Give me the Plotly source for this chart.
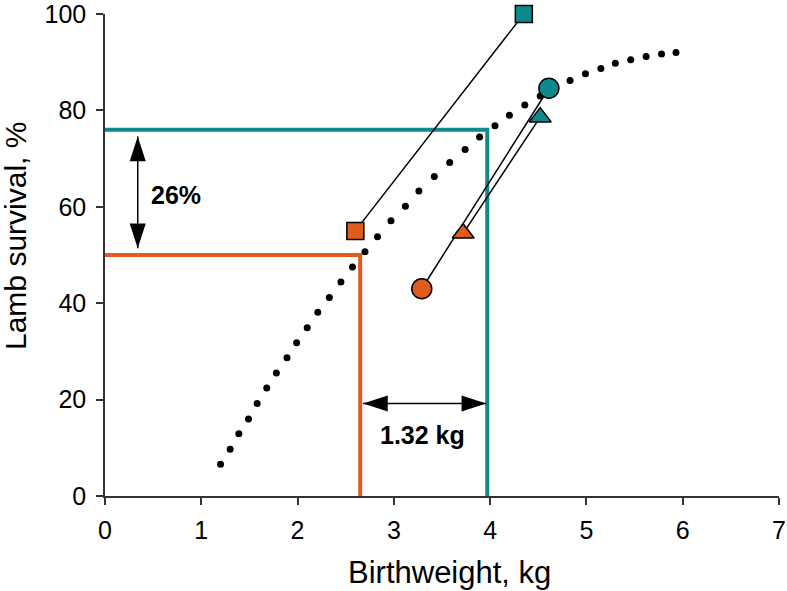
import plotly.graph_objects as go

# ---- data ----
curve_x = [1.20, 1.30, 1.39, 1.49, 1.58, 1.68, 1.78, 1.89, 1.99, 2.10, 2.21, 2.33, 2.45, 2.57,
           2.70, 2.83, 2.97, 3.12, 3.26, 3.42, 3.58, 3.74, 3.89, 4.05, 4.20, 4.36, 4.52, 4.67,
           4.83, 4.99, 5.15, 5.30, 5.46, 5.62, 5.78, 5.93]
curve_y = [6.6, 9.7, 12.9, 16.0, 19.2, 22.4, 25.5, 28.7, 31.8, 34.9, 38.1, 41.2, 44.4, 47.5,
           50.7, 53.8, 57.1, 60.1, 63.3, 66.3, 69.2, 71.9, 74.5, 76.8, 79.0, 81.1, 83.0, 84.7,
           86.2, 87.6, 88.7, 89.8, 90.5, 91.2, 91.7, 92.0]

square_x = [2.60, 4.35]
square_y = [55.0, 100.0]
triangle_x = [3.72, 4.52]
triangle_y = [54.5, 78.6]
circle_x = [3.29, 4.61]
circle_y = [43.0, 84.6]

low_weight, low_survival = 2.65, 50.0     # orange reference
high_weight, high_survival = 3.97, 76.0   # teal reference

vert_arrow_x = [0.34, 0.34]
vert_arrow_y = [51.4, 74.6]
horiz_arrow_x = [2.68, 3.96]
horiz_arrow_y = [19.2, 19.2]

label_pct = "26%"
label_kg = "1.32 kg"
x_ticks = [0, 1, 2, 3, 4, 5, 6, 7]
y_ticks = [0, 20, 40, 60, 80, 100]

ORANGE = "#E15B1D"
TEAL = "#0F898B"
FONT = "Liberation Sans, Arial, sans-serif"

L, R, T, B = 105, 8, 14, 95
PW = 787 - L - R
PH = 591 - T - B

fig = go.Figure()

# reference lines
fig.add_trace(go.Scatter(x=[0, high_weight, high_weight], y=[high_survival, high_survival, 0],
                         mode="lines", line=dict(color=TEAL, width=4), cliponaxis=False,
                         hoverinfo="skip"))
fig.add_trace(go.Scatter(x=[0, low_weight, low_weight], y=[low_survival, low_survival, 0],
                         mode="lines", line=dict(color=ORANGE, width=4), cliponaxis=False,
                         hoverinfo="skip"))

# dotted curve
fig.add_trace(go.Scatter(x=curve_x, y=curve_y, mode="markers",
                         marker=dict(color="black", size=7), cliponaxis=False))

# connectors
for xs, ys in [(square_x, square_y), (triangle_x, triangle_y), (circle_x, circle_y)]:
    fig.add_trace(go.Scatter(x=xs, y=ys, mode="lines", line=dict(color="black", width=1.5),
                             cliponaxis=False))

# markers
line_m = dict(color="black", width=1.5)
fig.add_trace(go.Scatter(x=square_x, y=square_y, mode="markers", cliponaxis=False,
                         marker=dict(symbol="square", size=17, color=[ORANGE, TEAL], line=line_m)))
fig.add_trace(go.Scatter(x=triangle_x, y=triangle_y, mode="markers", cliponaxis=False,
                         marker=dict(symbol="triangle-up", size=19, color=[ORANGE, TEAL], line=line_m)))
fig.add_trace(go.Scatter(x=circle_x, y=circle_y, mode="markers", cliponaxis=False,
                         marker=dict(symbol="circle", size=20, color=[ORANGE, TEAL], line=line_m)))

# double arrows
fig.add_trace(go.Scatter(x=vert_arrow_x, y=vert_arrow_y, mode="lines+markers",
                         line=dict(color="black", width=1.5), cliponaxis=False,
                         marker=dict(symbol="arrow", size=26, color="black", angle=[180, 0])))
fig.add_trace(go.Scatter(x=horiz_arrow_x, y=horiz_arrow_y, mode="lines+markers",
                         line=dict(color="black", width=1.5), cliponaxis=False,
                         marker=dict(symbol="arrow", size=26, color="black", angle=[-90, 90])))

fig.add_annotation(x=0.46, y=62.4, text="<b>" + label_pct + "</b>", showarrow=False,
                   xanchor="left", yanchor="middle", font=dict(size=25, color="black", family=FONT))
fig.add_annotation(x=3.30, y=12.6, text="<b>" + label_kg + "</b>", showarrow=False,
                   xanchor="center", yanchor="middle", font=dict(size=25, color="black", family=FONT))

# axis titles
fig.add_annotation(xref="paper", yref="paper", x=(449 - L) / PW, y=(T + PH - 572) / PH,
                   text="Birthweight, kg", showarrow=False, xanchor="center", yanchor="middle",
                   font=dict(size=31, color="black", family=FONT))
fig.add_annotation(xref="paper", yref="paper", x=(15 - L) / PW, y=(T + PH - 236) / PH,
                   text="Lamb survival, %", showarrow=False, textangle=-90,
                   xanchor="center", yanchor="middle",
                   font=dict(size=30, color="black", family=FONT))

axis_common = dict(showgrid=False, zeroline=False, showline=True, linecolor="#333333",
                   linewidth=1.5, ticks="outside", ticklen=7, tickwidth=1.5, tickcolor="#333333",
                   automargin=False, ticklabeloverflow="allow",
                   tickfont=dict(size=25, color="black", family=FONT))
fig.update_xaxes(range=[0, 7], tickvals=x_ticks, ticklabelstandoff=4, **axis_common)
fig.update_yaxes(range=[0, 100], tickvals=y_ticks, ticklabelstandoff=5, **axis_common)

fig.update_layout(width=787, height=591, showlegend=False,
                  margin=dict(l=L, r=R, t=T, b=B, autoexpand=False),
                  plot_bgcolor="white", paper_bgcolor="white",
                  font=dict(family=FONT))

fig.write_html("out.html", config={"displayModeBar": False},
               post_script="document.body.style.margin='0';document.body.style.overflow='hidden';")
